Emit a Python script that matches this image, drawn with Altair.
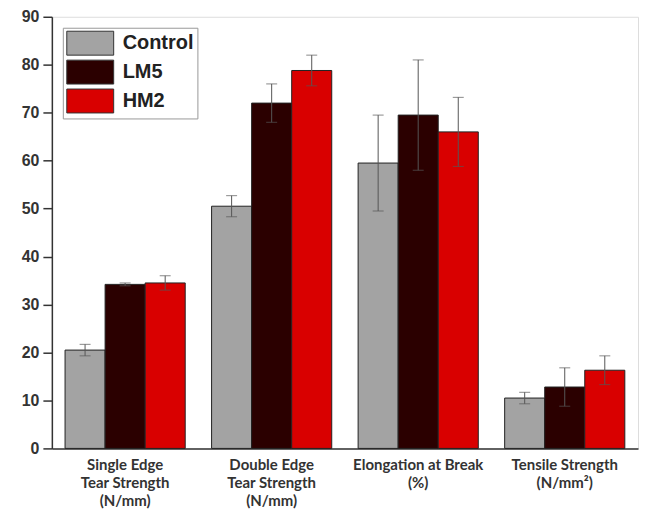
import altair as alt
import pandas as pd

categories = ["Single Edge|Tear Strength|(N/mm)", "Double Edge|Tear Strength|(N/mm)",
              "Elongation at Break|(%)", "Tensile Strength|(N/mm²)"]
series = ["Control", "LM5", "HM2"]
control_vals = [20.5, 50.5, 59.5, 10.5]
lm5_vals = [34.2, 72.0, 69.5, 12.8]
hm2_vals = [34.5, 78.8, 66.0, 16.3]
control_err = [1.2, 2.2, 10.0, 1.2]
lm5_err = [0.3, 4.0, 11.5, 4.0]
hm2_err = [1.5, 3.2, 7.2, 3.0]
colors = ["#a3a3a3", "#2b0000", "#d90000"]

rows = []
for s, vals, errs in [("Control", control_vals, control_err),
                      ("LM5", lm5_vals, lm5_err),
                      ("HM2", hm2_vals, hm2_err)]:
    for c, v, e in zip(categories, vals, errs):
        rows.append({"cat": c, "series": s, "value": v, "lo": v - e, "hi": v + e})
df = pd.DataFrame(rows)

x_enc = alt.X("cat:N", sort=categories,
              scale=alt.Scale(paddingInner=0.18, paddingOuter=0.09),
              axis=alt.Axis(title=None, labelAngle=0, ticks=False,
                            labelExpr="split(datum.label, '|')",
                            labelFont="Lato", labelFontWeight="bold", labelFontSize=15,
                            labelColor="#333", labelLineHeight=18, labelPadding=9,
                            labelBaseline="top", domainColor="#333", domainWidth=1.5))
xoff = alt.XOffset("series:N", sort=series, scale=alt.Scale(paddingInner=0, paddingOuter=0))

bars = alt.Chart(df).mark_bar(stroke="#222", strokeWidth=1).encode(
    x=x_enc,
    xOffset=xoff,
    y=alt.Y("value:Q", scale=alt.Scale(domain=[0, 90], nice=False),
            axis=alt.Axis(title=None, values=list(range(0, 91, 5)),
                          labelExpr="datum.value % 10 === 0 ? datum.label : ''",
                          tickSize={"condition": {"test": "datum.value % 10 !== 0", "value": 5}, "value": 9},
                          tickColor="#333", tickWidth=1.5, labelPadding=4,
                          labelFont="Liberation Sans", labelFontWeight="bold", labelFontSize=16,
                          labelColor="#333", grid=False, domainColor="#333", domainWidth=1.5)),
    color=alt.Color("series:N", sort=series,
                    scale=alt.Scale(domain=series, range=colors),
                    legend=alt.Legend(title=None, orient="top-left", offset=11,
                                      symbolType="M-1.96,-1H1.96V1H-1.96Z", symbolSize=576,
                                      symbolOffset=12,
                                      symbolStrokeColor="#333", symbolStrokeWidth=1,
                                      labelFont="Liberation Sans", labelFontWeight="bold",
                                      labelFontSize=20, labelColor="#222", labelOffset=20,
                                      rowPadding=0, padding=3, strokeColor="#999",
                                      fillColor="white", symbolOpacity=1)),
)

rules = alt.Chart(df).mark_rule(color="#555", strokeWidth=1).encode(
    x=alt.X("cat:N", sort=categories), xOffset=xoff,
    y="lo:Q", y2="hi:Q")
caps_hi = alt.Chart(df).mark_tick(color="#555", thickness=1, size=11).encode(
    x=alt.X("cat:N", sort=categories), xOffset=xoff, y="hi:Q")
caps_lo = alt.Chart(df).mark_tick(color="#555", thickness=1, size=11).encode(
    x=alt.X("cat:N", sort=categories), xOffset=xoff, y="lo:Q")

chart = alt.layer(bars, rules, caps_hi, caps_lo).properties(
    width=588, height=433,
    autosize=alt.AutoSizeParams(type="none"),
    padding={"left": 44, "top": 8, "right": 2, "bottom": 65},
).configure_view(stroke="#444", strokeWidth=2).configure(background="white")

chart.save("out.html", embed_options={"renderer": "svg", "actions": False})
